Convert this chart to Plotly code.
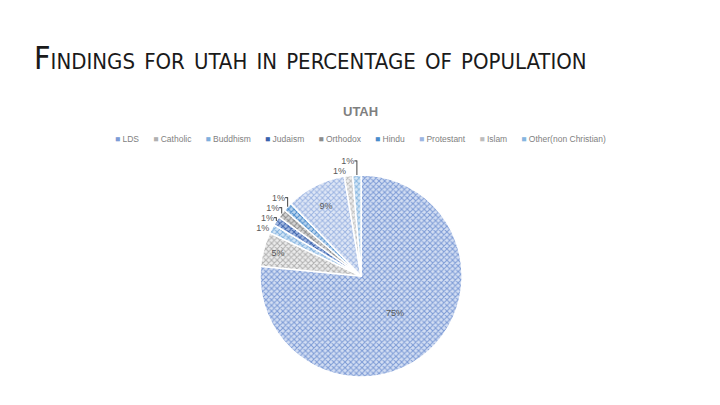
import plotly.graph_objects as go

categories = ["LDS", "Catholic", "Buddhism", "Judaism", "Orthodox", "Hindu",
              "Protestant", "Islam", "Other(non Christian)"]
values = [75, 5.4, 1.4, 1.4, 1.4, 1.4, 9.4, 1.3, 1.3]

fg_colors = ["#7d9bd6", "#b0b0b0", "#7fb0de", "#3a62ad", "#8c8c8c", "#4a8ccc",
             "#9db5e2", "#bdbdbd", "#86b6e0"]
bg_colors = ["#d3def3", "#ececec", "#d4e6f6", "#a8bde3", "#d6d6d6", "#bcd6ef",
             "#dfe7f6", "#efefef", "#d6e7f6"]
positions = ["inside", "inside", "outside", "outside", "outside", "outside",
             "inside", "outside", "outside"]

fig = go.Figure()
fig.add_trace(go.Pie(
    labels=categories,
    values=values,
    sort=False,
    direction="clockwise",
    rotation=0,
    texttemplate="%{value:.0f}%",
    textposition=positions,
    textfont=dict(family="Liberation Sans", size=9, color="#595959"),
    insidetextorientation="horizontal",
    marker=dict(colors=bg_colors,
                line=dict(color="white", width=1.5),
                pattern=dict(shape="x", size=4, solidity=0.45,
                             fgcolor=fg_colors, bgcolor=bg_colors, fillmode="replace")),
    domain=dict(x=[0.361, 0.642], y=[0.069, 0.568]),
    showlegend=False,
    hoverinfo="label+percent",
))

legend_text = "&nbsp;" * 6
legend_text = legend_text.join(
    f"<span style='color:{c}'>■</span>&nbsp;{name}" for name, c in zip(categories, fg_colors)
)

fig.update_layout(
    width=720, height=405,
    margin=dict(l=0, r=0, t=0, b=0),
    paper_bgcolor="white",
    plot_bgcolor="white",
    annotations=[
        dict(text="Findings for utah in percentage of population", x=0.044, y=0.858,
             xref="paper", yref="paper", xanchor="left", yanchor="middle", showarrow=False,
             font=dict(family="DejaVu Sans Condensed, Liberation Sans Narrow, Lato",
                       size=32, color="#1a1a1a", variant="small-caps")),
        dict(text="<b>UTAH</b>", x=0.5, y=0.725, xref="paper", yref="paper",
             xanchor="center", yanchor="middle", showarrow=False,
             font=dict(family="Liberation Sans", size=13, color="#7f7f7f")),
        dict(text=legend_text, x=0.5, y=0.657, xref="paper", yref="paper",
             xanchor="center", yanchor="middle", showarrow=False,
             font=dict(family="Liberation Sans", size=8.5, color="#7f7f7f")),
    ],
)

fig.write_html("out.html")
